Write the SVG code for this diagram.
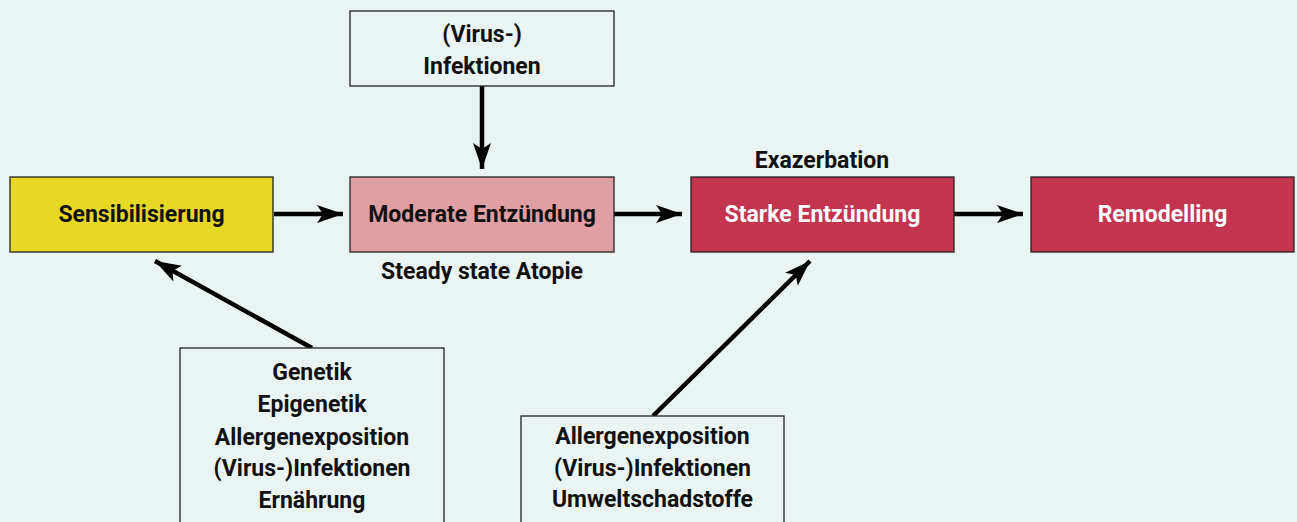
<svg xmlns="http://www.w3.org/2000/svg" width="1297" height="522" viewBox="0 0 1297 522">
<style>
.box{stroke:#222;stroke-width:1.3}
.t{font-family:Roboto,"Liberation Sans",sans-serif;font-weight:bold;font-size:23px;text-anchor:middle;fill:#111}
.w{fill:#fff}
.c{stroke:#000;stroke-width:4.5;fill:none;marker-end:url(#ah)}
</style>
<defs>
<marker id="ah" markerUnits="userSpaceOnUse" markerWidth="30" markerHeight="20" refX="26" refY="10" orient="auto">
<path d="M0,1 L26,10 L0,19 L6,10 Z" fill="#000"/>
</marker>
</defs>
<rect width="1297" height="522" fill="#EAF4F3"/>
<g id="connectors">
<line class="c" x1="482" y1="86" x2="482" y2="169"/>
<line class="c" x1="274" y1="214" x2="343" y2="214"/>
<line class="c" x1="614" y1="214" x2="682" y2="214"/>
<line class="c" x1="954" y1="214" x2="1023" y2="214"/>
<line class="c" x1="312" y1="348" x2="155" y2="261"/>
<line class="c" x1="653" y1="416" x2="810" y2="261"/>
</g>
<g id="infektionen">
<rect class="box" x="350" y="11" width="264" height="75" fill="#EAF4F3"/>
<text class="t" x="482" y="42">(Virus-)</text>
<text class="t" x="482" y="74">Infektionen</text>
</g>
<g id="sensibilisierung">
<rect class="box" x="10" y="177" width="263" height="75" fill="#E6D824"/>
<text class="t" x="141.5" y="222">Sensibilisierung</text>
</g>
<g id="moderate">
<rect class="box" x="350" y="177" width="264" height="75" fill="#E0A0A3"/>
<text class="t" x="482" y="222">Moderate Entzündung</text>
<text class="t" x="482" y="279">Steady state Atopie</text>
</g>
<g id="starke">
<text class="t" x="822" y="168">Exazerbation</text>
<rect class="box" x="691" y="177" width="263" height="75" fill="#C3344F"/>
<text class="t w" x="822.5" y="222">Starke Entzündung</text>
</g>
<g id="remodelling">
<rect class="box" x="1031" y="177" width="263" height="75" fill="#C3344F"/>
<text class="t w" x="1162.5" y="222">Remodelling</text>
</g>
<g id="faktoren1">
<rect class="box" x="180" y="348" width="264" height="190" fill="#EAF4F3"/>
<text class="t" x="312" y="380">Genetik</text>
<text class="t" x="312" y="412">Epigenetik</text>
<text class="t" x="312" y="445">Allergenexposition</text>
<text class="t" x="312" y="476">(Virus-)Infektionen</text>
<text class="t" x="312" y="508">Ernährung</text>
</g>
<g id="faktoren2">
<rect class="box" x="521" y="416" width="263" height="120" fill="#EAF4F3"/>
<text class="t" x="652.5" y="444">Allergenexposition</text>
<text class="t" x="652.5" y="476">(Virus-)Infektionen</text>
<text class="t" x="652.5" y="507">Umweltschadstoffe</text>
</g>
</svg>
